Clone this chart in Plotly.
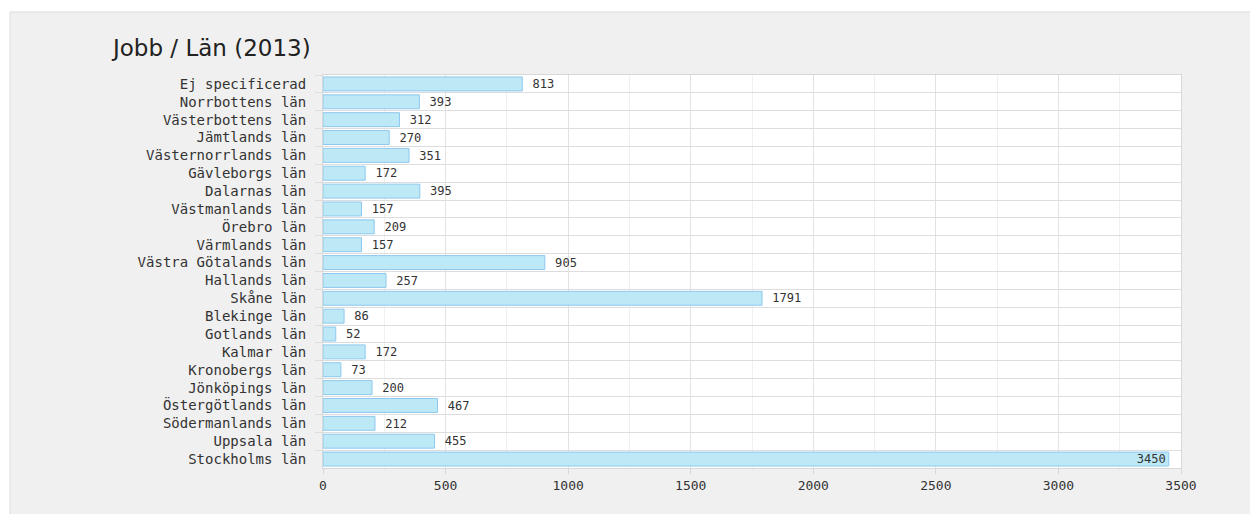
import plotly.graph_objects as go

categories = [
    "Ej specificerad", "Norrbottens län", "Västerbottens län", "Jämtlands län",
    "Västernorrlands län", "Gävleborgs län", "Dalarnas län", "Västmanlands län",
    "Örebro län", "Värmlands län", "Västra Götalands län", "Hallands län",
    "Skåne län", "Blekinge län", "Gotlands län", "Kalmar län", "Kronobergs län",
    "Jönköpings län", "Östergötlands län", "Södermanlands län", "Uppsala län",
    "Stockholms län",
]
values = [813, 393, 312, 270, 351, 172, 395, 157, 209, 157, 905, 257,
          1791, 86, 52, 172, 73, 200, 467, 212, 455, 3450]
x_ticks = [0, 500, 1000, 1500, 2000, 2500, 3000, 3500]
title_text = "Jobb / Län (2013)"

OFF = 8  # page body margin
W, H = 1258, 514
L, R, T, B = 323 - OFF, 1181 - OFF, 75 - OFF, 468 - OFF

positions = ["inside" if v > 3000 else "outside" for v in values]

fig = go.Figure()
fig.add_trace(go.Bar(
    y=categories, x=values, orientation="h",
    marker=dict(color="#bde8f6", line=dict(color="#8ec8ee", width=1)),
    text=[str(v) for v in values],
    texttemplate=[("%{text}" if p == "inside" else " %{text}") for p in positions],
    textposition=positions,
    insidetextanchor="end",
    textangle=0,
    textfont=dict(family="DejaVu Sans Mono", size=13, color="#333333"),
    cliponaxis=False,
    hoverinfo="skip",
))

pw, ph = R - L, B - T
# outer light-gray panel
fig.add_shape(type="rect", xref="paper", yref="paper", layer="below",
              x0=(2 - L) / pw, x1=(1252 - L) / pw,
              y0=(B - 520) / ph, y1=(B - 4) / ph,
              fillcolor="#f0f0f0", line=dict(color="#dddddd", width=1))
# white plotting area
fig.add_shape(type="rect", xref="paper", yref="paper", layer="below",
              x0=0, x1=1, y0=0, y1=1,
              fillcolor="#ffffff", line=dict(width=0))

fig.update_layout(
    width=W, height=H,
    margin=dict(l=L, r=W - R, t=T, b=H - B),
    paper_bgcolor="#ffffff", plot_bgcolor="#ffffff",
    showlegend=False, bargap=0.22,
    uniformtext=dict(minsize=12, mode="show"),
    title=dict(text=title_text, xref="container", yref="container",
               x=(113 - OFF) / W, y=1 - (48 - OFF) / H, xanchor="left", yanchor="middle",
               font=dict(family="DejaVu Sans", size=23, color="#222222")),
    xaxis=dict(range=[0, 3500], tickvals=x_ticks, ticktext=[str(t) for t in x_ticks],
               showgrid=True, gridcolor="#e2e2e2", gridwidth=1,
               minor=dict(dtick=250, showgrid=True, gridcolor="#f0f0f0"),
               showline=True, linecolor="#d8d8d8", mirror=True,
               ticks="outside", ticklen=5, tickcolor="#d8d8d8",
               tickfont=dict(family="DejaVu Sans Mono", size=13, color="#333333"),
               zeroline=False, fixedrange=True),
    yaxis=dict(autorange="reversed", tickson="boundaries", showgrid=True,
               gridcolor="#dddddd", ticks="outside", ticklen=7, tickcolor="#dddddd",
               ticklabelstandoff=13,
               showline=True, linecolor="#d8d8d8", mirror=True,
               tickfont=dict(family="DejaVu Sans Mono", size=14, color="#333333"),
               fixedrange=True),
)

fig.write_html("out.html")
